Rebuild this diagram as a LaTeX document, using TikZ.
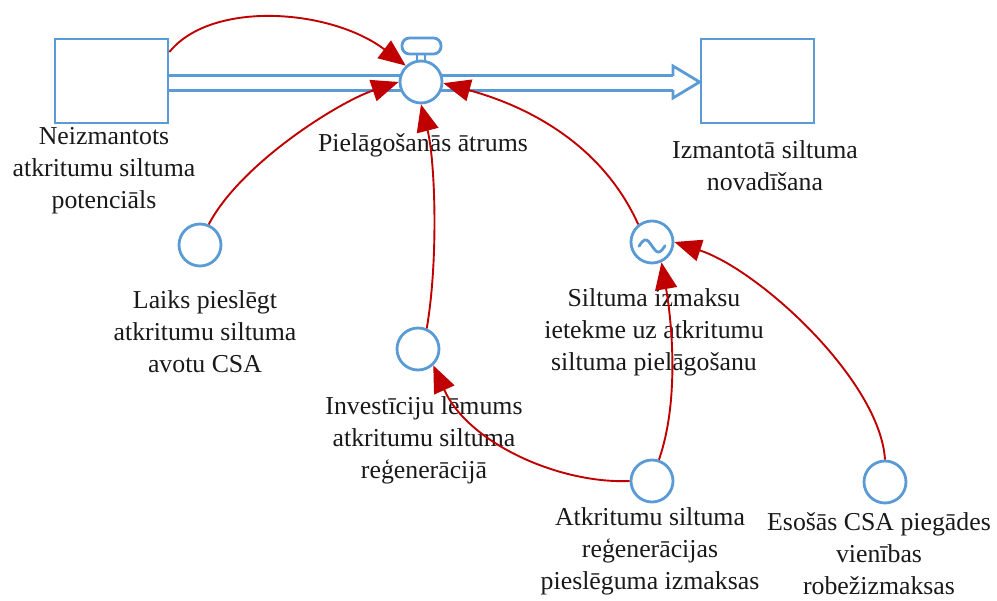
\documentclass[tikz,border=0pt]{standalone}
\usepackage{fontspec}
\setmainfont{Liberation Serif}
\usetikzlibrary{arrows.meta,calc}
\definecolor{sdblue}{HTML}{5B9BD5}
\definecolor{sdred}{HTML}{C00000}
\begin{document}
\begin{tikzpicture}[x=1pt,y=-1pt,
  stock/.style={draw=sdblue,line width=2.8pt,fill=white,minimum width=113pt,minimum height=84pt,inner sep=0pt},
  aux/.style={circle,draw=sdblue,line width=2.8pt,fill=white,minimum size=42pt,inner sep=0pt},
  lbl/.style={align=center,font=\fontsize{25.8}{32}\selectfont,inner sep=0pt,text=black!90},
  link/.style={draw=sdred,line width=1.9pt,-{Triangle[length=27pt,width=22pt]}},
  pipe/.style={draw=sdblue,line width=2.8pt,line join=miter}]
\useasboundingbox (0,0) rectangle (997,601);

% stocks
\node[stock] (src) at (111.5,81) {};
\node[stock] (snk) at (757.5,81) {};

% flow pipe with outlined head
\coordinate (head) at (673,83);
\draw[pipe,double=white,double distance=12pt] (src.east |- head) -- (head);
\draw[pipe,fill=white] (673,76) -- (673,66) -- (snk.west |- 0,82) -- (673,98) -- (673,90);

% valve
\node[aux] (valve) at (421,82) {};
\begin{scope}[shift={(valve.center)}]
  \draw[pipe] (-4,-21) -- (-4,-28) (4,-21) -- (4,-28);
  \draw[pipe,fill=white,rounded corners=7.5pt] (-19,-44) rectangle (20,-28);
\end{scope}

% auxiliaries
\node[aux] (laiks) at (200,245) {};
\node[aux] (inv) at (418,349) {};
\node[aux] (eff) at (652,242) {};
\node[aux] (cost) at (652,481) {};
\node[aux] (marg) at (885,482) {};
\begin{scope}[shift={(eff.center)}]
  \draw[sdblue,line width=2.8pt,line cap=round]
    plot[domain=-13:13,samples=40,smooth] (\x,{4+6*sin(14*\x)});
\end{scope}

% labels
\node[lbl] (src-l) at (104,171) {Neizmantots\\atkritumu siltuma\\potenciāls};
\node[lbl] (valve-l) at (423,145) {Pielāgošanās ātrums};
\node[lbl] (snk-l) at (765,166) {Izmantotā siltuma\\novadīšana};
\node[lbl] (laiks-l) at (205,332) {Laiks pieslēgt\\atkritumu siltuma\\avotu CSA};
\node[lbl] (eff-l) at (654,332) {Siltuma izmaksu\\ietekme uz atkritumu\\siltuma pielāgošanu};
\node[lbl] (inv-l) at (424,440) {Investīciju lēmums\\atkritumu siltuma\\reģenerācijā};
\node[lbl] (cost-l) at (650,551) {Atkritumu siltuma\\reģenerācijas\\pieslēguma izmaksas};
\node[lbl] (marg-l) at (879,554) {Esošās CSA piegādes\\vienības\\robežizmaksas};

% information links
\draw[link] ([yshift=29pt]src.east) .. controls +(42,-52) and +(-75,-57) .. (valve.133);
\draw[link] (laiks.67) .. controls +(32,-61) and +(-60,20) .. (valve.180);
\draw[link] (inv.67) .. controls +(12,-70) and +(14,55) .. (valve.270);
\draw[link] (eff.128) .. controls +(-42,-93) and +(62,17) .. (valve.357);
\draw[link] (cost.72) .. controls +(21,-60) and +(10,57) .. (eff.295);
\draw[link] (cost.180) .. controls +(-70,3) and +(35,78) .. (inv.313);
\draw[link] (marg.90) .. controls +(-5,-79) and +(85,28) .. (eff.0);
\end{tikzpicture}
\end{document}
